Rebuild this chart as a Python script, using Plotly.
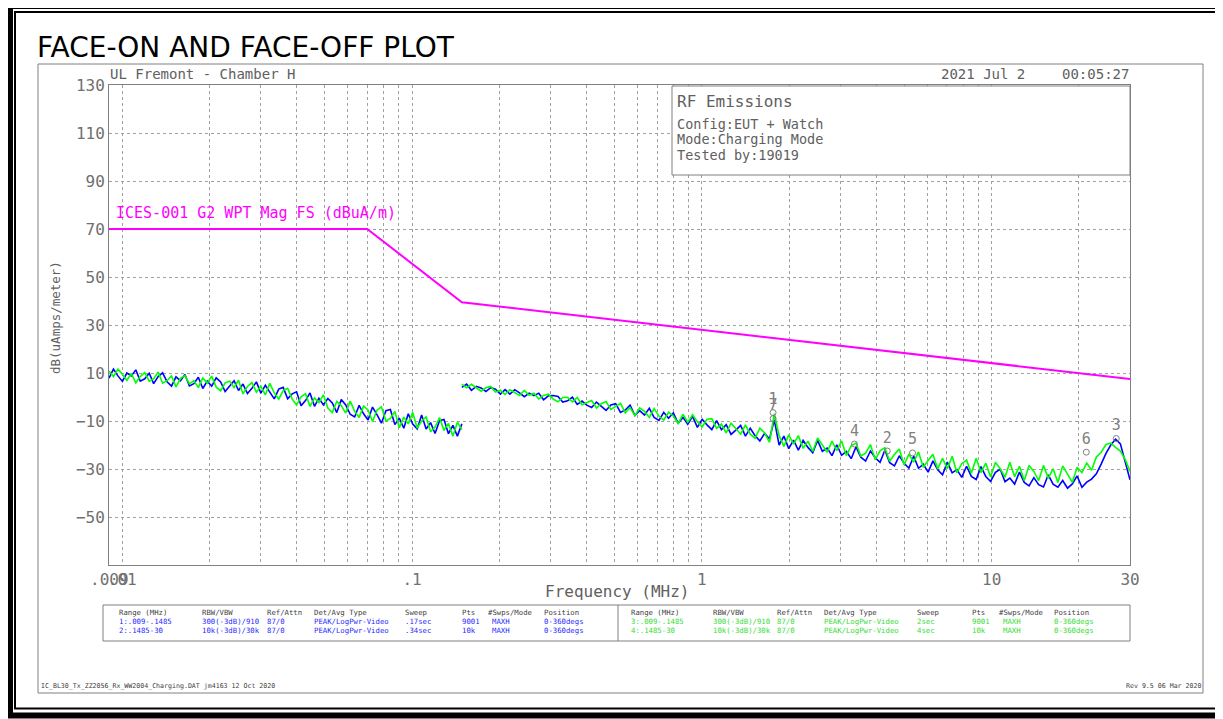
import numpy as np
import plotly.graph_objects as go

MONO = "DejaVu Sans Mono"
SANS = "DejaVu Sans, Liberation Sans, Arial"

# ---------------- data ----------------
seg1_start, seg1_stop, seg1_pts = 0.009, 0.1485, 80
seg2_start, seg2_stop, seg2_pts = 0.1485, 30.0, 140

blue_seg1 = [7.9, 11.6, 8.8, 6.5, 10.0, 8.8, 11.3, 6.6, 7.6, 9.9,
             5.55, 8.5, 10.05, 6.3, 4.55, 8.4, 6.7, 9.35, 4.6, 5.55,
             8.2, 3.55, 6.6, 4.5, 8.0, 6.3, 2.3, 4.6, 6.8, 2.7,
             5.4, 1.4, 3.6, 6.3, 1.6, 4.85, 1.8, -0.8, 3.3, 4.0,
             -0.7, 1.3, 2.15, -3.6, -1.5, 1.7, -3.9, -0.5, -3.3, -0.6,
             -2.5, -6.5, -1.0, -3.3, -7.2, -8.3, -3.5, -7.0, -9.6, -4.2,
             -7.3, -10.9, -5.7, -5.2, -11.5, -8.8, -13.0, -7.0, -11.3, -13.3,
             -7.5, -13.3, -10.7, -15.2, -9.9, -9.4, -15.3, -11.8, -16.3, -11.2]
green_seg1 = [10.8, 8.5, 11.6, 9.5, 6.9, 9.8, 5.9, 8.5, 10.2, 6.6,
              7.55, 10.4, 5.75, 6.8, 8.75, 4.2, 7.8, 8.95, 5.5, 6.85,
              3.9, 7.95, 5.8, 8.7, 4.1, 2.6, 5.9, 6.6, 3.9, 7.0,
              1.3, 4.4, 6.0, 2.0, 4.5, 0.85, 5.7, 1.7, -0.9, 2.7,
              3.6, -0.8, -3.35, 0.1, 1.4, -3.9, -0.4, -2.4, 0.9, -4.6,
              -6.5, -1.8, -3.6, -6.7, -1.7, -6.0, -8.5, -3.8, -5.4, -10.2,
              -5.5, -4.1, -10.0, -8.9, -6.0, -12.8, -8.4, -11.2, -6.4, -13.0,
              -10.0, -8.3, -14.5, -12.5, -8.6, -13.9, -11.0, -16.3, -10.5, -13.6]

blue_seg2 = [4.0, 5.35, 2.8, 4.45, 3.8, 2.25, 3.9, 3.25, 1.2, 3.05,
             1.2, 3.05, 1.7, 0.15, 1.6, 0.55, 1.6, -1.15, 0.5, 0.6,
             0.2, -2.1, -1.6, -0.1, -3.1, -1.7, -3.4, -4.4, -2.1, -3.7,
             -5.6, -3.3, -2.8, -6.4, -5.4, -3.4, -7.7, -5.7, -7.5, -4.7,
             -8.5, -9.75, -6.4, -8.85, -6.6, -10.95, -8.5, -11.35, -8.1, -12.65,
             -9.3, -11.6, -13.6, -9.8, -13.6, -11.5, -15.6, -13.8, -11.8, -16.3,
             -13.0, -16.1, -18.3, -15.1, -17.5, -9.5, -20.0, -16.3, -21.5, -18.0,
             -22.1, -18.1, -21.0, -23.2, -18.1, -22.6, -21.3, -24.4, -19.9, -24.3,
             -22.7, -25.7, -20.8, -25.1, -26.7, -22.5, -25.3, -27.2, -22.2, -27.35,
             -28.7, -24.5, -27.6, -29.6, -24.7, -29.7, -28.0, -31.3, -26.6, -30.35,
             -32.4, -27.15, -31.6, -30.25, -33.5, -28.85, -33.1, -34.35, -29.0, -33.1,
             -35.2, -31.4, -30.1, -35.3, -33.8, -36.3, -31.3, -35.6, -37.0, -33.6,
             -36.5, -37.5, -32.4, -36.3, -37.6, -34.8, -38.0, -36.2, -32.9, -37.6,
             -35.5, -34.2, -32.0, -28.0, -23.5, -20.0, -17.6, -19.5, -27.0, -34.5]
green_seg2 = [5.4, 3.85, 5.3, 3.95, 2.4, 3.85, 4.4, 2.05, 2.8, 1.05,
              3.0, 1.85, 0.6, 2.75, 0.7, 1.55, -0.8, 0.65, 1.2, -0.9,
              -2.0, -0.2, -0.1, -2.0, -0.2, -3.2, -2.3, -1.5, -4.6, -2.8,
              -1.9, -5.2, -3.9, -2.7, -6.6, -4.4, -7.8, -4.5, -6.0, -8.5,
              -4.8, -7.95, -9.6, -6.35, -7.9, -11.05, -7.2, -10.55, -7.4, -10.35,
              -12.5, -9.3, -9.0, -13.1, -11.3, -15.0, -10.9, -13.2, -15.5, -11.6,
              -15.5, -17.2, -13.0, -15.0, -18.9, -7.0, -16.1, -20.6, -15.8, -19.6,
              -16.1, -21.4, -18.4, -22.7, -17.1, -20.0, -23.0, -18.4, -22.4, -18.3,
              -24.4, -20.3, -19.2, -24.6, -23.4, -19.8, -26.1, -22.4, -21.1, -26.75,
              -23.9, -21.7, -28.3, -23.8, -27.1, -22.9, -29.3, -26.5, -23.9, -29.95,
              -25.6, -29.85, -24.7, -31.55, -27.8, -26.25, -31.8, -25.55, -31.5, -27.6,
              -33.3, -27.2, -29.9, -33.4, -27.2, -33.2, -28.9, -34.8, -28.5, -31.0,
              -34.8, -28.5, -33.8, -29.9, -35.6, -28.7, -32.4, -35.6, -29.3, -31.5,
              -27.5, -30.5, -25.0, -23.0, -19.8, -19.2, -21.0, -22.5, -26.0, -31.0]

limit_freqs = [0.009, 0.07, 0.1485, 30.0]
limit_levels = [70, 70, 39.5, 7.5]
limit_name = "ICES-001 G2 WPT Mag FS (dBuA/m)"

marker_labels = ["1", "7", "4", "2", "5", "6", "3"]
marker_freqs = [1.76, 1.76, 3.36, 4.36, 5.33, 21.2, 26.9]
marker_levels = [-6.5, -9.0, -19.6, -22.5, -23.3, -23.0, -17.3]

grid_freqs = [0.01, 0.02, 0.03, 0.04, 0.05, 0.06, 0.07, 0.08, 0.09,
              0.1, 0.2, 0.3, 0.4, 0.5, 0.6, 0.7, 0.8, 0.9,
              1, 2, 3, 4, 5, 6, 7, 8, 9, 10, 20, 30]
x_labels = {0.01: ".01", 0.1: ".1", 1: "1", 10: "10", 30: "30"}
y_ticks = [130, 110, 90, 70, 50, 30, 10, -10, -30, -50]

table_headers = ["Range (MHz)", "RBW/VBW", "Ref/Attn", "Det/Avg Type", "Sweep", "Pts", "#Swps/Mode", "Position"]
rows_left = [["1:.009-.1485", "300(-3dB)/910", "87/0", "PEAK/LogPwr-Video", ".17sec", "9001", "MAXH", "0-360degs"],
             ["2:.1485-30", "10k(-3dB)/30k", "87/0", "PEAK/LogPwr-Video", ".34sec", "10k", "MAXH", "0-360degs"]]
rows_right = [["3:.009-.1485", "300(-3dB)/910", "87/0", "PEAK/LogPwr-Video", "2sec", "9001", "MAXH", "0-360degs"],
              ["4:.1485-30", "10k(-3dB)/30k", "87/0", "PEAK/LogPwr-Video", "4sec", "10k", "MAXH", "0-360degs"]]

# ---------------- layout helpers (page pixel coords) ----------------
PAGE_W, PAGE_H = 1223, 719
BODY = 8                       # default HTML body margin
L, R, T, B = 109, 1130, 85, 565  # plot area in page pixels


def px(xp):
    return (xp - L) / (R - L)


def py(yp):
    return (B - yp) / (B - T)


def ann(x, y, text, size, color, family=MONO, xanchor="left", yanchor="middle", **kw):
    return dict(xref="paper", yref="paper", x=px(x), y=py(y), text=text, showarrow=False,
                font=dict(family=family, size=size, color=color),
                xanchor=xanchor, yanchor=yanchor, borderpad=0, **kw)


def rect(x0, y0, x1, y1, color, width, fill=None, layer="above"):
    return dict(type="rect", xref="paper", yref="paper", x0=px(x0), y0=py(y0), x1=px(x1), y1=py(y1),
                line=dict(color=color, width=width), fillcolor=fill if fill else "rgba(0,0,0,0)", layer=layer)


def vline(x, y0, y1, color, width):
    return dict(type="line", xref="paper", yref="paper", x0=px(x), x1=px(x), y0=py(y0), y1=py(y1),
                line=dict(color=color, width=width), layer="above")


# ---------------- figure ----------------
f1 = np.geomspace(seg1_start, seg1_stop, seg1_pts)
f2 = np.geomspace(seg2_start, seg2_stop, seg2_pts)

BLUE = "#0000ff"
GREEN = "#00ff00"
GRAY = "#707070"

fig = go.Figure()
for fx, fy, col in [(f1, blue_seg1, BLUE), (f1, green_seg1, GREEN),
                    (f2, blue_seg2, BLUE), (f2, green_seg2, GREEN)]:
    fig.add_trace(go.Scatter(x=fx, y=fy, mode="lines", line=dict(color=col, width=1.6),
                             hoverinfo="skip", showlegend=False))

fig.add_trace(go.Scatter(x=limit_freqs, y=limit_levels, mode="lines",
                         line=dict(color="#ff00ff", width=2), hoverinfo="skip", showlegend=False))

fig.add_trace(go.Scatter(x=marker_freqs, y=marker_levels, mode="markers+text", text=marker_labels,
                         textposition="top center",
                         marker=dict(symbol="circle-open", size=6, color="#808080", line=dict(width=1)),
                         textfont=dict(family=MONO, size=15, color="#808080"),
                         hoverinfo="skip", showlegend=False, cliponaxis=False))

fig.update_layout(
    width=PAGE_W - BODY, height=PAGE_H - BODY,
    margin=dict(l=L - BODY, r=PAGE_W - R, t=T - BODY, b=PAGE_H - B),
    paper_bgcolor="white", plot_bgcolor="white",
    showlegend=False,
    xaxis=dict(type="log", range=[np.log10(seg1_start), np.log10(seg2_stop)],
               tickvals=grid_freqs, ticktext=[x_labels.get(f, "") for f in grid_freqs],
               tickangle=0, ticks="", showgrid=True, gridcolor="#a0a0a0", griddash="dot", gridwidth=1,
               showline=True, linecolor="#808080", linewidth=1, mirror=True, zeroline=False,
               tickfont=dict(family=MONO, size=16, color=GRAY)),
    yaxis=dict(range=[-70, 130], tickvals=y_ticks, ticks="", showgrid=True, gridcolor="#a0a0a0",
               griddash="dot", gridwidth=1, showline=True, linecolor="#808080", linewidth=1,
               mirror=True, zeroline=False, tickfont=dict(family=MONO, size=16, color=GRAY)),
)

annotations = [
    ann(36, 48, "FACE-ON AND FACE-OFF PLOT", 28, "black", family=SANS),
    ann(109, 74, "UL Fremont - Chamber H", 14, "#606060"),
    ann(940, 74, "2021 Jul 2", 14, "#606060"),
    ann(1130, 74, "00:05:27", 14, "#606060", xanchor="right"),
    ann(676, 101, "RF Emissions", 16, "#606060"),
    ann(676, 124, "Config:EUT + Watch", 13.5, "#606060"),
    ann(676, 139, "Mode:Charging Mode", 13.5, "#606060"),
    ann(676, 155, "Tested by:19019", 13.5, "#606060"),
    ann(115, 213, limit_name, 15, "#ff00ff"),
    ann(617, 591, "Frequency (MHz)", 16, "#606060", xanchor="center"),
    ann(55, 318, "dB(uAmps/meter)", 12.5, "#606060", xanchor="center", textangle=-90),
    dict(xref="x", yref="paper", x=np.log10(seg1_start), y=0, yshift=-3, text=".009", showarrow=False,
         font=dict(family=MONO, size=16, color=GRAY), xanchor="center", yanchor="top"),
    ann(40, 686, "IC_BL30_Tx_ZZ2056_Rx_WW2004_Charging.DAT jm4163 12 Oct 2020", 6.6, "#404040"),
    ann(1202, 686, "Rev 9.5 06 Mar 2020", 6.6, "#404040", xanchor="right"),
]

cols_left = [118, 201, 266, 313, 404, 461, 487, 543]
cols_right = [630, 712, 776, 823, 916, 971, 998, 1053]
row_y = [612, 621, 630]
TS = 7.3
for cols, rows, col in [(cols_left, rows_left, "#2828ff"), (cols_right, rows_right, "#33dd33")]:
    for h, cx in zip(table_headers, cols):
        annotations.append(ann(cx, row_y[0], h, TS, "#404040"))
    for r, ry in zip(rows, row_y[1:]):
        for j, (v, cx) in enumerate(zip(r, cols)):
            annotations.append(ann(cx + (4 if j == 6 else 0), ry, v, TS, col))

shapes = [
    rect(10, 6, 1245, 715.5, "black", 6),
    rect(15, 12, 1240, 708.5, "black", 2),
    rect(38, 64, 1203, 693, "#808080", 1),
    rect(672, 86, 1130, 175, "#808080", 1, fill="white"),
    rect(103, 605, 1130, 641, "#808080", 1),
    vline(618, 605, 641, "#808080", 1),
]

fig.update_layout(annotations=annotations, shapes=shapes)
fig.write_html("out.html")
